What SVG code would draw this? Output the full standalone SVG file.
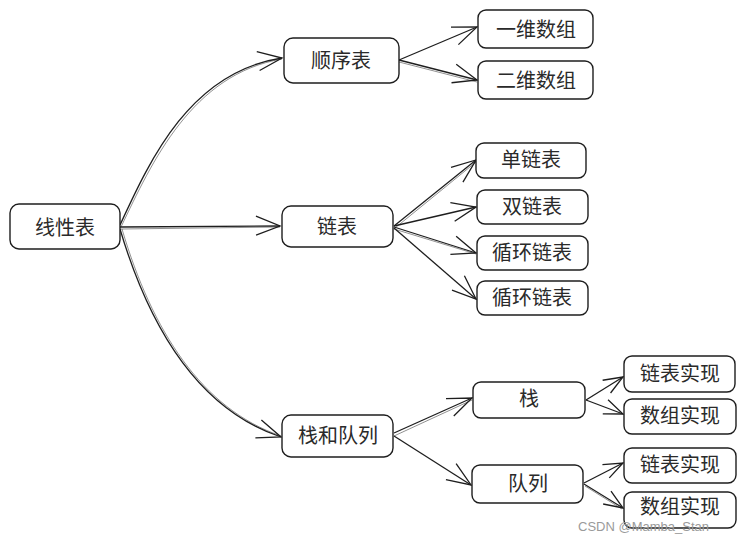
<svg xmlns="http://www.w3.org/2000/svg" width="746" height="537" viewBox="0 0 746 537">
<style>
.box{fill:#fff;stroke:#1e1e1e;stroke-width:1.4}
.lbl{font-family:"Noto Sans CJK SC","Noto Sans",sans-serif;font-size:20px;fill:#2a2a2a;text-anchor:middle;dominant-baseline:central}
.c{fill:none;stroke:#1e1e1e;stroke-width:1.3}
.c2{fill:none;stroke:#1e1e1e;stroke-width:0.7;opacity:0.7}
.wm{font-family:"Liberation Sans",Arial,sans-serif;font-size:13px;fill:#9a9a9a}
</style>
<defs>
<marker id="ah" markerUnits="userSpaceOnUse" viewBox="-26 -12 28 24" markerWidth="28" markerHeight="24" refX="0" refY="0" orient="auto">
<path d="M-24,-10 L0,0 L-24,9" fill="none" stroke="#1e1e1e" stroke-width="1.3"/>
</marker>
<marker id="ahs" markerUnits="userSpaceOnUse" viewBox="-22 -10 24 20" markerWidth="24" markerHeight="20" refX="0" refY="0" orient="auto">
<path d="M-19,-8 L0,0 L-19,7" fill="none" stroke="#1e1e1e" stroke-width="1.3"/>
</marker>
</defs>
<rect width="746" height="537" fill="#fff"/>
<g id="connectors">
<path class="c" d="M120,225 C150,160 190,72 282,58" marker-end="url(#ah)"/>
<path class="c2" d="M121,227 C152,162 192,74 282,59"/>
<path class="c" d="M120,227 L280,226" marker-end="url(#ah)"/>
<path class="c2" d="M121,229 L280,227"/>
<path class="c" d="M120,229 C150,330 200,410 281,437" marker-end="url(#ah)"/>
<path class="c2" d="M122,229 C152,331 202,409 281,436"/>
<path class="c" d="M399,60 L477,27" marker-end="url(#ah)"/>
<path class="c" d="M399,60 L477,80" marker-end="url(#ah)"/>
<path class="c2" d="M399,62 L477,82"/>
<path class="c" d="M394,226 L476,160" marker-end="url(#ah)"/>
<path class="c2" d="M395,228 L476,162"/>
<path class="c" d="M394,226 L476,207" marker-end="url(#ah)"/>
<path class="c" d="M394,227 L476,253" marker-end="url(#ah)"/>
<path class="c2" d="M394,229 L476,254"/>
<path class="c" d="M394,228 L476,299" marker-end="url(#ah)"/>
<path class="c" d="M394,433 L472,398" marker-end="url(#ah)"/>
<path class="c2" d="M394,436 L472,400"/>
<path class="c" d="M394,436 L471,485" marker-end="url(#ah)"/>
<path class="c" d="M586,400 L623,377" marker-end="url(#ahs)"/>
<path class="c" d="M586,400 L623,414" marker-end="url(#ahs)"/>
<path class="c" d="M584,483 L623,463" marker-end="url(#ahs)"/>
<path class="c" d="M584,484 L623,508" marker-end="url(#ahs)"/>
<path class="c2" d="M585,486 L622,509"/>
</g>
<g id="n-linear"><rect class="box" x="10" y="204" width="110" height="45" rx="9"/><text class="lbl" x="65" y="226">线性表</text></g>
<g id="n-seq"><rect class="box" x="284" y="38" width="115" height="45" rx="9"/><text class="lbl" x="341" y="59">顺序表</text></g>
<g id="n-arr1"><rect class="box" x="478" y="10" width="115" height="38" rx="8"/><text class="lbl" x="536" y="28">一维数组</text></g>
<g id="n-arr2"><rect class="box" x="478" y="61" width="115" height="38" rx="8"/><text class="lbl" x="536" y="79">二维数组</text></g>
<g id="n-link"><rect class="box" x="282" y="206" width="111" height="41" rx="9"/><text class="lbl" x="337" y="225">链表</text></g>
<g id="n-single"><rect class="box" x="476" y="143" width="110" height="35" rx="8"/><text class="lbl" x="531" y="158">单链表</text></g>
<g id="n-double"><rect class="box" x="477" y="190" width="111" height="34" rx="8"/><text class="lbl" x="532" y="205">双链表</text></g>
<g id="n-circ1"><rect class="box" x="477" y="236" width="111" height="34" rx="8"/><text class="lbl" x="532" y="251">循环链表</text></g>
<g id="n-circ2"><rect class="box" x="477" y="281" width="111" height="34" rx="8"/><text class="lbl" x="532" y="296">循环链表</text></g>
<g id="n-sq"><rect class="box" x="282" y="415" width="111" height="42" rx="9"/><text class="lbl" x="338" y="434">栈和队列</text></g>
<g id="n-stack"><rect class="box" x="473" y="382" width="112" height="36" rx="8"/><text class="lbl" x="529" y="397">栈</text></g>
<g id="n-queue"><rect class="box" x="472" y="465" width="111" height="38" rx="8"/><text class="lbl" x="528" y="482">队列</text></g>
<g id="n-s-link"><rect class="box" x="624" y="356" width="111" height="36" rx="8"/><text class="lbl" x="680" y="372">链表实现</text></g>
<g id="n-s-arr"><rect class="box" x="624" y="399" width="112" height="35" rx="8"/><text class="lbl" x="680" y="414">数组实现</text></g>
<g id="n-q-link"><rect class="box" x="624" y="448" width="112" height="35" rx="8"/><text class="lbl" x="680" y="463">链表实现</text></g>
<g id="n-q-arr"><rect class="box" x="624" y="492" width="112" height="36" rx="8"/><text class="lbl" x="680" y="505">数组实现</text></g>
<text class="wm" x="578" y="531">CSDN @Mamba_Stan</text>
</svg>
